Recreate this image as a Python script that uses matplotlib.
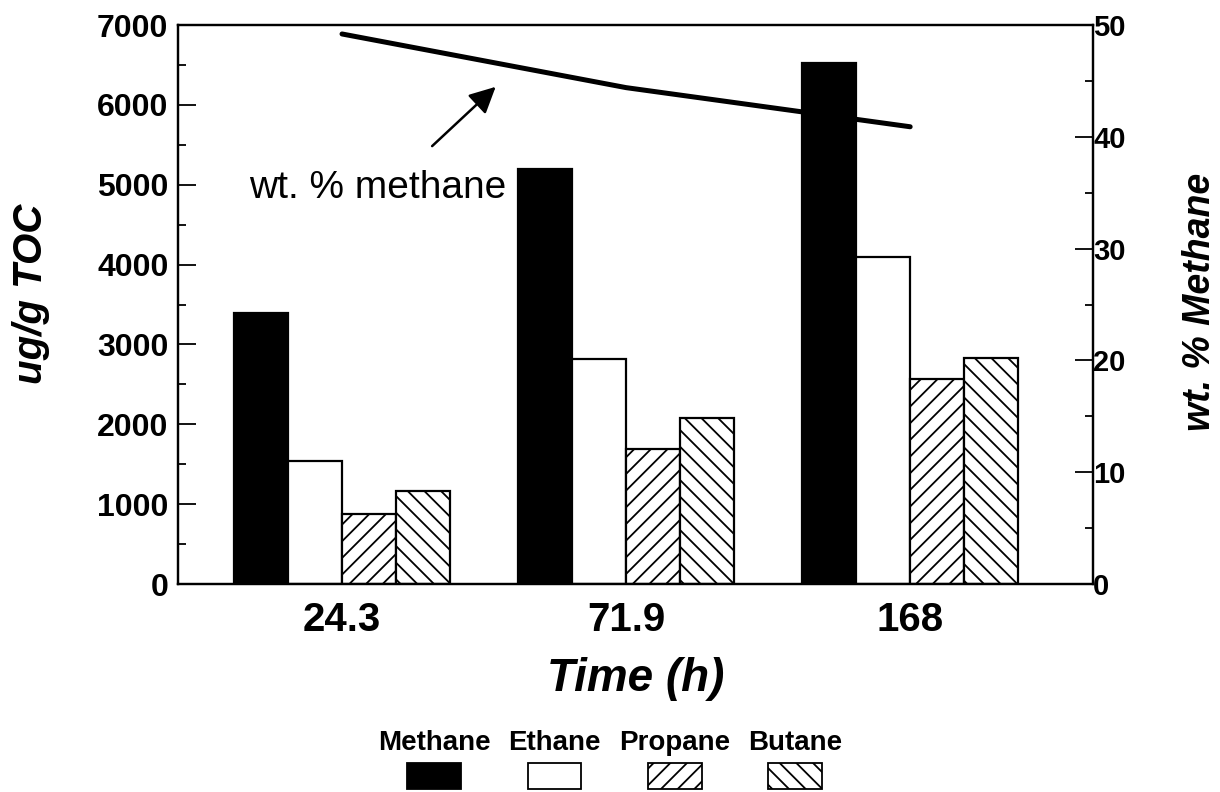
import numpy as np
import matplotlib.pyplot as plt
from matplotlib.patches import Rectangle
from matplotlib.ticker import MultipleLocator

plt.rcParams['font.family'] = ['Liberation Sans', 'DejaVu Sans']
plt.rcParams['hatch.linewidth'] = 1.3

# gas yields (ug/g TOC) per run time
times = ["24.3", "71.9", "168"]
gases = ["Methane", "Ethane", "Propane", "Butane"]
methane = [3400, 5200, 6520]
ethane = [1545, 2820, 4090]
propane = [875, 1690, 2570]
butane = [1170, 2080, 2835]
wt_methane = [49.2, 44.4, 40.9]

series = [methane, ethane, propane, butane]
colors = ["black", "white", "white", "white"]
hatches = [None, None, "//", "\\\\"]

fig = plt.figure(figsize=(12.2, 7.92), dpi=100)
ax = fig.add_axes([0.146, 0.2626, 0.75, 0.7058])
ax2 = ax.twinx()

x = np.arange(len(times))
w = 0.19
for i, vals in enumerate(series):
    ax.bar(x + (i - 1.5) * w, vals, w, color=colors[i], edgecolor="black",
           linewidth=1.6, hatch=hatches[i], zorder=2)

ax2.plot(x, wt_methane, color="black", lw=3.6, solid_capstyle="round",
         solid_joinstyle="round")

ax.set_xlim(-0.577, 2.644)
ax.set_ylim(0, 7000)
ax2.set_ylim(0, 50)

ax.set_xticks(x)
ax.set_xticklabels(times, fontsize=29, fontweight="bold")
ax.tick_params(axis="x", length=0, pad=12)

ax.yaxis.set_major_locator(MultipleLocator(1000))
ax.yaxis.set_minor_locator(MultipleLocator(500))
ax.tick_params(axis="y", which="major", direction="in", length=13, width=1.3,
               labelsize=23, pad=7)
ax.tick_params(axis="y", which="minor", direction="in", length=6, width=1.3)
for lab in ax.get_yticklabels():
    lab.set_fontweight("bold")

ax2.yaxis.set_major_locator(MultipleLocator(10))
ax2.yaxis.set_minor_locator(MultipleLocator(5))
ax2.tick_params(axis="y", which="major", direction="in", length=13, width=1.3,
                labelsize=21, pad=0)
ax2.tick_params(axis="y", which="minor", direction="in", length=6, width=1.3)
for lab in ax2.get_yticklabels():
    lab.set_fontweight("bold")

for a in (ax, ax2):
    for s in a.spines.values():
        s.set_linewidth(1.6)

ax.set_xlabel("Time (h)", fontsize=33, fontweight="bold", style="italic",
              labelpad=13)
ax.set_ylabel("ug/g TOC", fontsize=29, fontweight="bold", style="italic")
ax.yaxis.set_label_coords(-0.140, 0.52)
ax2.set_ylabel("wt. % Methane", fontsize=27, fontweight="bold",
               style="italic")
ax2.yaxis.set_label_coords(1.097, 0.505)

# label for the methane fraction curve
ax.text(0.127, 4960, "wt. % methane", fontsize=28, ha="center", va="center")
ax.annotate("", xy=(0.548, 6250), xytext=(0.31, 5460),
            arrowprops=dict(arrowstyle="-|>", color="black", lw=1.8,
                            mutation_scale=40))

# legend: names above swatches
lx0, lstep = 0.356, 0.0985
for i, name in enumerate(gases):
    cx = lx0 + i * lstep
    fig.text(cx, 0.062, name, fontsize=20, fontweight="bold",
             ha="center", va="center")
    fig.add_artist(Rectangle((cx - 0.022, 0.004), 0.044, 0.033,
                             transform=fig.transFigure, facecolor=colors[i],
                             edgecolor="black", linewidth=1.3,
                             hatch=hatches[i]))

fig.savefig("out.png", dpi=100)
